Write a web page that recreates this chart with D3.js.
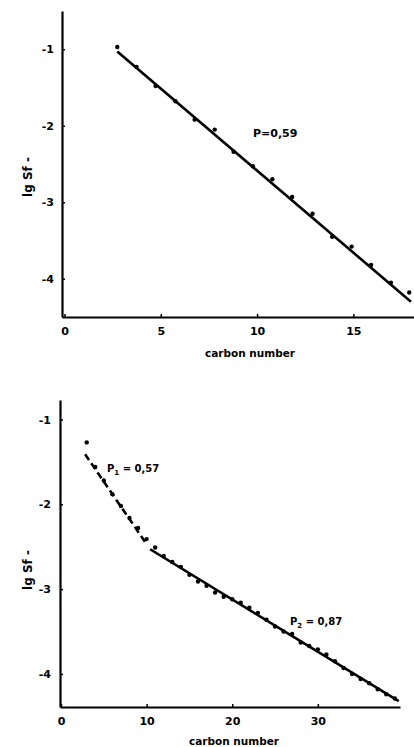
<!DOCTYPE html>
<html>
<head>
<meta charset="utf-8">
<script src="https://cdn.jsdelivr.net/npm/d3@7"></script>
<style>
  body { margin: 0; background: #fff; }
  svg { display: block; font-family: "DejaVu Sans", sans-serif; font-weight: bold; }
</style>
</head>
<body>
<svg id="chart" width="414" height="747"></svg>
<script>
// top panel: single fit
const topCarbon = [2.74, 3.74, 4.73, 5.76, 6.76, 7.8, 8.78, 9.78, 10.79, 11.82, 12.88, 13.9, 14.91, 15.92, 16.95, 17.9];
const topLogS = [-0.97, -1.23, -1.48, -1.68, -1.92, -2.05, -2.34, -2.53, -2.7, -2.93, -3.15, -3.45, -3.58, -3.82, -4.05, -4.18];
const topFitX = [2.74, 17.99];
const topFitY = [-1.03, -4.3];
const topXTicks = [0, 5, 10, 15];
const topYTicks = [-1, -2, -3, -4];

// bottom panel: two fits
const botCarbon = [3, 4, 5, 6, 7, 8, 9, 10, 11, 12, 13, 14, 15, 16, 17, 18, 19, 20, 21, 22, 23, 24, 25, 26, 27, 28, 29, 30, 31, 32, 33, 34, 35, 36, 37, 38, 39];
const botLogS = [-1.27, -1.56, -1.72, -1.88, -2.02, -2.16, -2.28, -2.41, -2.51, -2.61, -2.68, -2.74, -2.83, -2.91, -2.96, -3.04, -3.09, -3.12, -3.16, -3.22, -3.28, -3.36, -3.44, -3.5, -3.53, -3.63, -3.67, -3.71, -3.77, -3.85, -3.93, -4.0, -4.06, -4.11, -4.18, -4.24, -4.29];
const fit1X = [2.81, 10.0];
const fit1Y = [-1.41, -2.47];
const fit2X = [10.41, 39.45];
const fit2Y = [-2.53, -4.32];
const botXTicks = [0, 10, 20, 30];
const botYTicks = [-1, -2, -3, -4];

const svg = d3.select("#chart");

function panel(opts) {
  const x = d3.scaleLinear().domain(opts.xDomain).range(opts.xRange);
  const y = d3.scaleLinear().domain(opts.yDomain).range(opts.yRange);
  const g = svg.append("g");

  // axes
  const xAxis = g.append("g")
    .attr("transform", "translate(0," + opts.yRange[1] + ")")
    .call(d3.axisBottom(x).tickValues(opts.xTicks).tickSize(-3).tickPadding(10).tickSizeOuter(0));
  const yAxis = g.append("g")
    .attr("transform", "translate(" + opts.xRange[0] + ",0)")
    .call(d3.axisLeft(y).tickValues(opts.yTicks).tickSize(-3).tickPadding(opts.yPad)
      .tickFormat(d => "-" + Math.abs(d)).tickSizeOuter(0));
  [xAxis, yAxis].forEach(a => {
    a.select(".domain").attr("stroke", "#000").attr("stroke-width", 2.2);
    a.selectAll(".tick line").attr("stroke", "#000").attr("stroke-width", 1.5);
    a.selectAll("text").attr("font-size", 11).attr("font-weight", "bold")
      .attr("font-family", "DejaVu Sans, sans-serif").attr("fill", "#000");
  });

  // fit lines
  opts.fits.forEach(f => {
    const pts = f.xs.map((v, i) => [x(v), y(f.ys[i])]);
    g.append("path")
      .attr("d", d3.line()(pts))
      .attr("fill", "none")
      .attr("stroke", "#000")
      .attr("stroke-width", 2.6)
      .attr("stroke-dasharray", f.dash || null);
  });

  // points
  g.selectAll("circle.pt")
    .data(opts.xs.map((v, i) => [v, opts.ys[i]]))
    .join("circle")
    .attr("class", "pt")
    .attr("cx", d => x(d[0]))
    .attr("cy", d => y(d[1]))
    .attr("r", 2.2)
    .attr("fill", "#000");

  // x label
  g.append("text")
    .attr("x", opts.xLabelPos[0])
    .attr("y", opts.xLabelPos[1])
    .attr("text-anchor", "middle")
    .attr("font-size", 10.5)
    .text("carbon number");

  // y label (rotated)
  g.append("text")
    .attr("transform", "translate(" + opts.yLabelPos[0] + "," + opts.yLabelPos[1] + ") rotate(-90)")
    .attr("text-anchor", "middle")
    .attr("font-size", 12)
    .text("lg Sf -");

  return { x, y, g };
}

const topPanel = panel({
  xDomain: [-0.13, 18.2], xRange: [62, 415],
  yDomain: [-0.5, -4.5], yRange: [11, 317],
  xTicks: topXTicks, yTicks: topYTicks, yPad: 8,
  xs: topCarbon, ys: topLogS,
  fits: [{ xs: topFitX, ys: topFitY }],
  xLabelPos: [250, 357], yLabelPos: [32, 177]
});
topPanel.g.append("text")
  .attr("x", 253).attr("y", 137)
  .attr("font-size", 11)
  .text("P=0,59");

const botPanel = panel({
  xDomain: [-0.12, 39.6], xRange: [60, 400],
  yDomain: [-0.77, -4.39], yRange: [400, 707],
  xTicks: botXTicks, yTicks: botYTicks, yPad: 9,
  xs: botCarbon, ys: botLogS,
  fits: [{ xs: fit1X, ys: fit1Y, dash: "7,4" }, { xs: fit2X, ys: fit2Y }],
  xLabelPos: [234, 745], yLabelPos: [32, 570]
});
const l1 = botPanel.g.append("text").attr("x", 107).attr("y", 472).attr("font-size", 10);
l1.append("tspan").text("P");
l1.append("tspan").attr("dy", 3).attr("font-size", 7).text("1");
l1.append("tspan").attr("dy", -3).text(" = 0,57");
const l2 = botPanel.g.append("text").attr("x", 290).attr("y", 625).attr("font-size", 10);
l2.append("tspan").text("P");
l2.append("tspan").attr("dy", 3).attr("font-size", 7).text("2");
l2.append("tspan").attr("dy", -3).text(" = 0,87");
</script>
</body>
</html>
